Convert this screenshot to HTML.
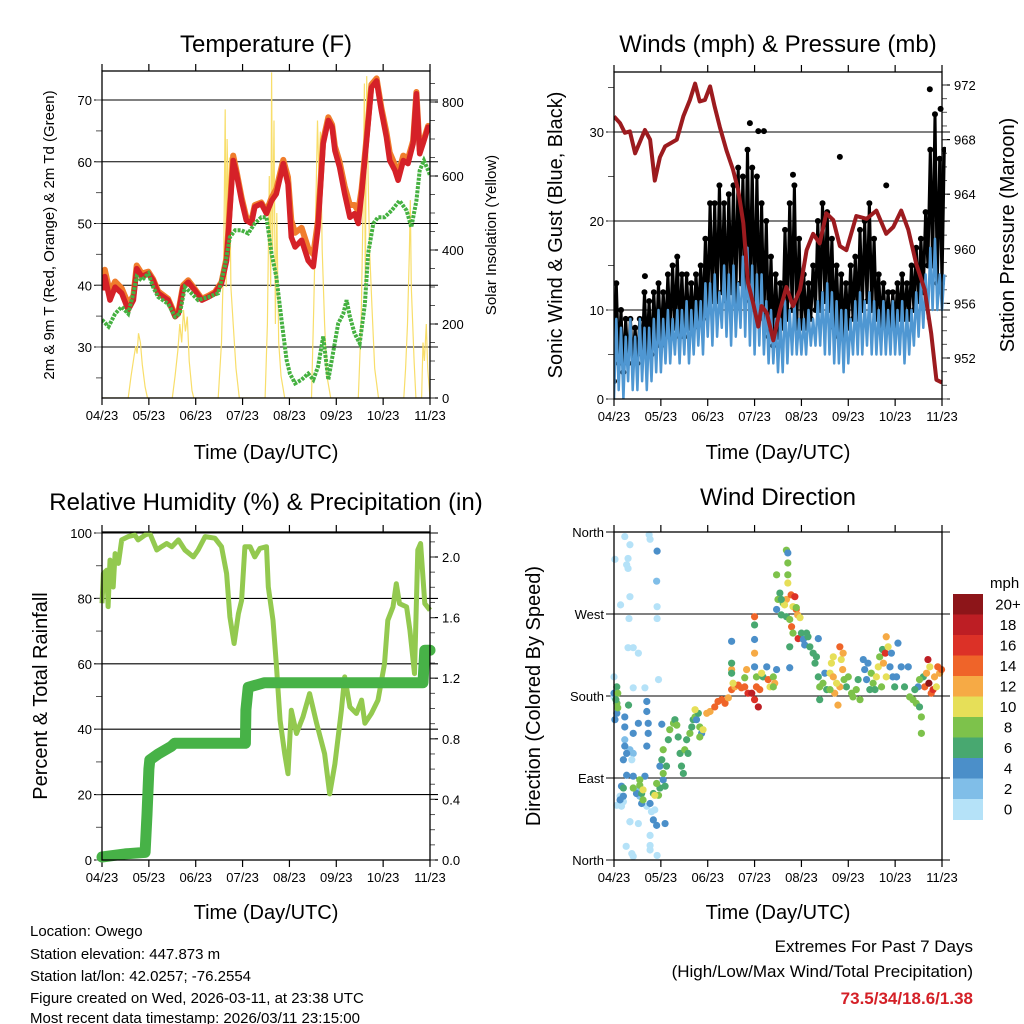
<!DOCTYPE html>
<html><head><meta charset="utf-8">
<style>
html,body{margin:0;padding:0;background:#fff;}
svg{display:block;font-family:"Liberation Sans",Arial,sans-serif;}
</style></head>
<body>
<svg id="chart" width="1024" height="1024" viewBox="0 0 1024 1024" xmlns="http://www.w3.org/2000/svg">
<rect x="0" y="0" width="1024" height="1024" fill="#fff"/>
<text x="266" y="52" font-size="24" text-anchor="middle">Temperature (F)</text>
<text x="778" y="52" font-size="24" text-anchor="middle">Winds (mph) &amp; Pressure (mb)</text>
<text x="266" y="510" font-size="24" text-anchor="middle">Relative Humidity (%) &amp; Precipitation (in)</text>
<text x="778" y="505" font-size="24" text-anchor="middle">Wind Direction</text>
<text x="266" y="459" font-size="20" text-anchor="middle">Time (Day/UTC)</text>
<text x="778" y="459" font-size="20" text-anchor="middle">Time (Day/UTC)</text>
<text x="266" y="919" font-size="20" text-anchor="middle">Time (Day/UTC)</text>
<text x="778" y="919" font-size="20" text-anchor="middle">Time (Day/UTC)</text>
<text transform="translate(54,235) rotate(-90)" font-size="15" text-anchor="middle">2m &amp; 9m T (Red, Orange) &amp; 2m Td (Green)</text>
<text transform="translate(496,235) rotate(-90)" font-size="15" text-anchor="middle">Solar Insolation (Yellow)</text>
<text transform="translate(562,235) rotate(-90)" font-size="20" text-anchor="middle">Sonic Wind &amp; Gust (Blue, Black)</text>
<text transform="translate(1014,235) rotate(-90)" font-size="20" text-anchor="middle">Station Pressure (Maroon)</text>
<text transform="translate(47,696) rotate(-90)" font-size="20" text-anchor="middle">Percent &amp; Total Rainfall</text>
<text transform="translate(540,696) rotate(-90)" font-size="20" text-anchor="middle">Direction (Colored By Speed)</text>
<g font-size="15">
<text x="30" y="936">Location: Owego</text>
<text x="30" y="959">Station elevation: 447.873 m</text>
<text x="30" y="981">Station lat/lon: 42.0257; -76.2554</text>
<text x="30" y="1003">Figure created on Wed, 2026-03-11, at 23:38 UTC</text>
<text x="30" y="1024" dy="-1">Most recent data timestamp: 2026/03/11 23:15:00</text>
</g>
<text x="973" y="952" font-size="17" text-anchor="end">Extremes For Past 7 Days</text>
<text x="973" y="977" font-size="17" text-anchor="end">(High/Low/Max Wind/Total Precipitation)</text>
<text x="973" y="1004" font-size="17" font-weight="bold" fill="#d42027" text-anchor="end">73.5/34/18.6/1.38</text>
<g id="layer"></g>
</svg>
<script>
const xTickLabels = ["04/23","05/23","06/23","07/23","08/23","09/23","10/23","11/23"];

const tempT  = [0,0.06,0.17,0.28,0.42,0.56,0.67,0.74,0.85,0.99,1.09,1.2,1.41,1.56,1.63,1.73,1.84,1.98,2.13,2.27,2.41,2.55,2.66,2.73,2.8,2.87,2.98,3.08,3.19,3.26,3.4,3.51,3.62,3.72,3.87,3.97,4.04,4.12,4.26,4.4,4.51,4.61,4.72,4.83,4.91,4.97,5.07,5.18,5.29,5.39,5.47,5.54,5.64,5.75,5.86,5.96,6.07,6.14,6.25,6.32,6.43,6.53,6.64,6.71,6.78,6.85,6.96,7.0];
const temp2m = [39.2,41.4,37.6,39.7,38.7,36,37.6,42.7,41.4,41.9,40.8,38.7,37.6,34.9,35.4,39.7,40.5,39.2,37.6,38.1,38.7,40.3,44.0,52.1,60.2,58.0,53.7,50.5,50.0,52.7,53.2,51.6,53.7,54.8,59.7,56.4,47.8,46.2,47.3,44.0,43.0,49.4,62.9,66.7,65.6,61.8,59.1,54.8,51.0,51.6,50.0,54.8,62.9,72.0,73.1,68.3,64.0,60.2,58.6,57.0,60.2,59.7,62.9,71.0,61.3,62.9,65.6,65.0];
const temp9m = [40.5,42.5,38.8,40.6,39.5,37,38.3,43.2,41.9,42.2,41.0,39.0,37.8,35.2,35.7,40.0,40.8,39.4,37.8,38.3,38.9,40.5,44.5,53.0,61.0,58.5,54.2,51.0,50.5,53.0,53.4,52.0,54.2,55.6,60.3,57.5,50.5,48.5,49.3,46.0,45.0,50.5,63.5,67.2,66.0,62.5,60.0,56.0,53.0,53.0,52.0,55.6,63.5,72.5,73.5,68.8,64.8,61.5,59.5,58.0,61.0,60.5,63.4,71.3,61.8,63.2,65.8,65.3];
const dewT   = [0,0.14,0.28,0.42,0.56,0.67,0.74,0.85,0.99,1.09,1.2,1.41,1.56,1.66,1.77,1.91,2.05,2.27,2.48,2.62,2.73,2.84,2.98,3.12,3.26,3.4,3.51,3.62,3.72,3.83,3.94,4.01,4.12,4.26,4.4,4.51,4.61,4.72,4.83,4.93,5.04,5.15,5.22,5.29,5.39,5.5,5.61,5.68,5.79,5.89,6.03,6.18,6.35,6.5,6.6,6.71,6.78,6.87,6.96,7.0];
const dewV   = [34.4,33.3,35.4,36.5,35.4,38.7,41.4,40.8,41.9,39.7,38.1,37.0,34.9,35.4,39.7,38.7,37.6,38.1,38.7,43.0,47.8,48.9,48.9,48.4,50.0,51.0,51.0,45.1,41.4,34.4,27.9,25.7,24.1,24.7,25.7,24.7,26.8,31.7,24.7,29.0,33.8,35.4,37.6,34.9,32.2,30.6,37.0,45.1,50.0,51.0,51.0,52.1,53.7,52.1,49.4,53.7,58.6,60.2,58.6,57.8];
const solarT = [0,0.56,0.62,0.68,0.72,0.75,0.78,0.82,0.86,0.92,0.97,1.5,1.56,1.62,1.66,1.7,1.74,1.78,1.82,1.86,1.92,1.96,2.48,2.55,2.6,2.63,2.65,2.67,2.7,2.72,2.75,2.8,2.86,2.93,3.48,3.53,3.57,3.6,3.62,3.64,3.67,3.7,3.73,3.77,3.82,3.9,4.47,4.52,4.56,4.6,4.63,4.66,4.7,4.75,4.8,4.88,5.47,5.53,5.57,5.6,5.62,5.65,5.68,5.71,5.76,5.82,5.9,6.44,6.48,6.52,6.56,6.58,6.6,6.63,6.66,6.7,6.82,6.85,6.88,6.92,6.95,7.0];
const solarV = [0,0,60,110,140,120,175,150,90,30,0,0,60,130,200,150,238,180,220,100,20,0,0,150,400,780,300,700,500,650,300,200,80,0,0,200,600,300,880,400,750,200,500,150,60,0,0,250,500,750,600,720,400,200,60,0,0,200,500,850,300,870,600,400,250,80,0,0,80,200,400,535,300,200,100,0,0,150,100,200,80,0];
const tempTicks = [30,40,50,60,70];
const solarTicks = [0,200,400,600,800];

const windT  = [0,0.1,0.2,0.3,0.4,0.5,0.6,0.7,0.8,0.9,1.0,1.1,1.2,1.3,1.4,1.5,1.6,1.7,1.8,1.9,2.0,2.1,2.2,2.3,2.4,2.5,2.6,2.7,2.8,2.9,3.0,3.1,3.2,3.3,3.4,3.5,3.6,3.7,3.8,3.9,4.0,4.1,4.2,4.3,4.4,4.5,4.6,4.7,4.8,4.9,5.0,5.1,5.2,5.3,5.4,5.5,5.6,5.7,5.8,5.9,6.0,6.1,6.2,6.3,6.4,6.5,6.6,6.7,6.8,6.9,7.0];
const windLo = [0,1,0,2,1,1,2,1,2,3,3,4,4,5,4,5,4,5,6,5,7,6,7,8,7,6,7,8,7,6,5,6,5,4,4,3,3,4,5,5,5,5,6,6,6,5,5,4,4,3,4,5,5,5,6,5,5,5,5,5,5,5,4,5,6,7,8,9,10,10,10];
const windHi = [9,8,7,9,7,9,8,8,9,10,9,10,9,10,10,11,10,11,11,13,13,14,12,15,14,15,13,16,17,15,14,14,11,10,9,9,11,10,11,9,9,10,9,11,12,13,12,11,10,10,9,11,12,11,12,11,10,11,10,11,10,11,10,10,12,13,14,17,18,14,14];
const gustLo = [2,4,3,4,4,4,5,5,5,6,6,7,7,8,7,7,8,8,9,9,10,11,11,12,11,12,11,13,12,11,10,10,9,7,6,7,8,9,10,8,8,8,9,10,10,11,10,8,7,7,8,9,9,10,11,10,9,8,8,8,8,9,9,9,10,11,12,15,15,13,13];
const gustHi = [13,10,9,9,8,9,12,11,12,13,12,14,15,16,14,14,13,14,15,18,22,22,24,22,23,24,26,25,28,26,25,22,20,16,14,13,19,22,24,18,14,13,15,20,22,21,18,15,14,13,15,16,19,20,22,18,14,13,12,12,13,14,13,15,17,18,21,28,32,27,28];
const gustOutT = [2.9,3.08,3.2,6.74,6.97,3.82,4.82,5.81,0.66];
const gustOutV = [31,30.1,30.1,34.8,32.6,25.2,27.2,24,13.8];
const presT = [0,0.13,0.23,0.34,0.45,0.66,0.77,0.87,0.98,1.09,1.34,1.48,1.62,1.73,1.83,1.94,2.05,2.15,2.26,2.4,2.54,2.65,2.76,2.86,2.97,3.08,3.15,3.26,3.4,3.54,3.68,3.82,3.97,4.11,4.25,4.39,4.53,4.68,4.82,4.96,5.17,5.39,5.6,5.81,5.96,6.13,6.28,6.45,6.63,6.77,6.88,7.0];
const presV = [969.7,969.2,968.5,968.6,967.0,968.7,968.0,965.0,966.7,967.5,968.0,969.7,970.9,972.1,970.8,970.9,971.9,970.4,968.9,967.2,965.8,964.3,961.9,957.5,956.0,954.3,955.8,955.3,953.3,955.5,957.2,955.8,957.0,959.9,961.1,960.4,962.6,962.1,960.2,959.9,962.4,962.2,962.8,961.1,961.6,962.8,961.4,958.9,957.0,953.8,950.4,950.2];
const windTicks = [0,10,20,30];
const presTicks = [952,956,960,964,968,972];

const rhT = [0,0.03,0.1,0.13,0.17,0.24,0.28,0.35,0.42,0.56,0.7,0.77,0.92,1.02,1.17,1.27,1.38,1.49,1.63,1.77,1.95,2.05,2.2,2.41,2.55,2.66,2.73,2.82,2.91,2.98,3.05,3.16,3.26,3.37,3.51,3.55,3.65,3.72,3.8,3.9,3.97,4.04,4.15,4.29,4.43,4.58,4.75,4.86,4.97,5.11,5.18,5.29,5.43,5.54,5.61,5.75,5.89,6.03,6.1,6.21,6.28,6.35,6.5,6.57,6.67,6.74,6.8,6.89,7.0];
const rhV = [78.5,87.6,88.6,77.5,91.7,83.5,93.7,90.7,97.9,98.9,99.4,97.9,99.4,99.9,94.8,95.8,96.8,95.8,97.9,94.8,92.7,94.8,98.9,98.4,95.8,87.6,74.3,66.2,75.3,79.4,95.8,95.8,92.7,95.3,95.8,83.5,73.3,60.0,42.7,32.5,26.4,45.8,38.7,43.8,50.9,41.8,32.5,20.2,29.4,45.8,56.0,46.8,44.8,48.9,41.8,44.8,48.9,60.0,73.3,77.4,84.5,78.4,77.4,70.3,57.0,94.8,96.8,78.4,76.4];
const precipT = [0,0.49,0.92,0.96,1.0,1.02,1.2,1.48,1.55,3.06,3.07,3.12,3.47,6.85,6.89,7.0];
const precipV = [0.02,0.04,0.05,0.3,0.6,0.66,0.7,0.75,0.77,0.77,0.99,1.14,1.17,1.17,1.385,1.385];
const rhTicks = [0,20,40,60,80,100];
const precipTicks = [0.0,0.4,0.8,1.2,1.6,2.0];

const dirTicks = [0,90,180,270,360];
const dirTickLabels = ["North","East","South","West","North"];
const speedBins = [0,2,4,6,8,10,12,14,16,18,20];
const speedLabels = ["0","2","4","6","8","10","12","14","16","18","20+"];
const dirT = [0.23,0.34,0.27,0.3,0.3,0.02,0.34,0.14,0.32,0.3,0.41,0.52,0,0.41,0.66,0.95,0.75,0.77,0.92,0.92,0.91,0.92,
0.06,0.16,0.34,0.34,0.52,0.26,0.38,0.41,0.77,0.77,0.77,0.92,0.7,0.8,0.87,0.34,0.41,0.38,0.23,0.48,0.55,0.13,0.2,0,
0,0.06,0.06,0.23,0.23,0.23,0.2,0.27,0.16,0.2,0.41,0.48,0.59,0.7,0.7,0.73,0.73,0.7,0.66,0.77,1.02,0.98,1.05,0.84,1.09,0.91,0.02,0.13,0.27,0.41,0.52,
0.06,0.08,0.06,0.04,0.08,0.31,0.2,0.41,0.55,0.59,0.62,0.84,0.95,0.98,0.91,1.09,1.05,1.12,0.55,0.62,0.87,
1.02,1.05,1.16,1.19,1.27,1.3,1.34,1.37,1.41,1.44,1.48,1.51,1.55,1.62,1.69,1.73,1.76,1.83,1.87,1.9,1.58,1.66,1.8,1.83,1.73,
1.98,2.05,2.15,2.22,2.3,2.37,2.44,2.51,2.58,2.65,2.72,2.79,2.86,2.94,3.0,3.08,3.04,3.11,2.51,2.54,2.83,2.79,2.51,2.51,2.51,3.0,3.0,3.0,3.0,3.0,3.04,3.18,3.26,3.15,3.29,3.33,3.4,3.43,3.47,3.4,
3.68,3.71,3.71,3.71,3.71,3.47,3.54,3.5,3.61,3.68,3.78,3.86,3.82,3.89,3.92,3.97,3.47,3.57,3.68,3.75,3.79,3.82,3.75,3.75,3.89,3.64,3.57,
3.93,4.0,4.04,4.07,4.14,4.18,4.25,4.29,4.36,4.32,4.11,
4.36,4.39,4.39,4.46,4.5,4.54,4.61,4.64,4.68,4.71,4.78,4.82,4.85,4.88,4.91,4.96,5.0,4.82,4.89,4.68,4.61,4.75,
5.07,5.17,5.25,5.32,5.35,5.39,5.46,5.42,5.49,5.53,5.6,5.64,5.67,5.73,5.75,5.79,5.81,5.85,5.89,5.92,5.99,6.03,6.06,6.13,6.2,6.28,5.57,5.71,5.95,5.81,5.21,5.1,
6.31,6.38,6.45,6.52,6.56,6.56,6.6,6.63,6.67,6.7,6.72,6.74,6.77,6.81,6.84,6.91,6.95,6.99,6.49,6.42,6.88,6.52];
const dirV = [355,346,324,320,331,330,289,280,265,233,233,227,201,189,189,198,357,352,278,265,306,339,
60,59,42,42,40,15,7,4,27,16,11,5,59,53,55,121,117,110,132,77,70,70,64,179,
183,172,161,157,146,125,110,93,81,70,92,73,62,174,163,150,139,125,92,62,149,103,88,44,40,38,154,66,117,139,150,
190,183,172,176,167,170,79,79,82,73,66,73,71,79,84,81,95,103,88,77,71,
110,121,132,143,150,154,148,135,117,103,95,121,132,139,154,157,154,146,139,143,117,146,161,135,165,
161,163,168,174,176,172,178,187,190,192,189,190,183,183,176,168,190,187,209,194,209,200,216,240,205,267,258,242,227,212,201,201,212,205,198,190,201,194,209,190,
340,337,326,313,304,313,293,286,282,286,291,289,278,275,269,266,275,269,267,264,256,249,234,211,277,280,286,
243,249,242,236,245,234,227,216,243,223,249,
201,190,176,194,205,187,205,216,201,183,170,234,220,209,198,190,201,190,227,223,187,194,
183,187,176,220,209,198,187,216,205,194,201,212,223,231,216,227,245,234,212,227,190,201,238,212,190,212,187,190,201,201,198,179,
179,176,172,168,157,139,201,190,205,220,194,212,183,187,201,212,205,209,190,187,190,198];
const dirS = [1,1,1,1,1,1,1,1,1,1,1,1,1,1,1,1,1,1,1,1,3,5,
1,1,1,1,1,1,1,1,1,1,1,1,1,1,1,3,3,1,3,3,3,1,1,1,
5,5,5,5,5,5,5,5,5,5,5,5,5,5,5,5,5,5,5,5,5,5,5,5,5,5,5,5,5,5,5,
7,9,9,7,9,7,7,9,9,7,9,7,9,7,9,7,9,7,9,11,11,
7,9,7,9,9,7,9,7,7,7,7,9,7,9,7,9,5,9,5,11,7,7,7,9,11,
13,13,15,15,15,15,13,15,13,15,15,15,17,19,17,19,15,15,13,11,13,9,7,5,7,15,7,5,13,5,9,7,5,11,15,11,9,13,5,9,
9,5,9,9,11,9,7,9,9,13,15,17,11,15,13,11,5,7,7,9,15,9,7,5,9,11,7,
17,7,5,5,7,7,7,7,5,7,7,
7,9,7,9,5,7,11,11,13,13,13,15,11,13,9,7,9,13,13,11,9,11,
9,9,9,5,5,5,7,5,9,9,11,11,9,7,13,17,13,11,5,5,7,5,5,5,7,5,7,9,5,11,7,9,
9,9,9,7,9,9,7,15,13,19,21,11,15,17,13,15,13,15,5,7,11,9];
const speedColors = ["#b5e2f8","#80bee8","#4b8fc9","#48a870","#7dc24b","#e6df58","#f6aa45","#ef6429","#dc3127","#bd1e24","#8d1519"];

const NS = "http://www.w3.org/2000/svg";
const layer = document.getElementById("layer");
function mk(tag, attrs, parent) {
  const e = document.createElementNS(NS, tag);
  for (const k in attrs) e.setAttribute(k, attrs[k]);
  (parent || layer).appendChild(e);
  return e;
}
function lin(d0, d1, r0, r1) { return v => r0 + (v - d0) * (r1 - r0) / (d1 - d0); }

function timeAxis(p, prefix) {
  const xs = lin(0, 7, p.x0, p.x1);
  xTickLabels.forEach((lab, i) => {
    const x = xs(i);
    const tb = mk("line", {x1:x, x2:x, y1:p.y1, y2:p.y1+7, stroke:"#000", "stroke-width":1.2});
    
    
    const tt = mk("line", {x1:x, x2:x, y1:p.y0-7, y2:p.y0, stroke:"#000", "stroke-width":1.2});
    
    
    const t = mk("text", {x:x, y:p.y1+22, "font-size":13, "text-anchor":"middle"});
    t.textContent = lab;
    
    
  });
  return xs;
}
function frame(p, prefix) {
  const r = mk("rect", {x:p.x0, y:p.y0, width:p.x1-p.x0, height:p.y1-p.y0, fill:"none", stroke:"#000", "stroke-width":1.3});
  
  
}
function leftAxis(p, ys, ticks, labels, minorStep, lo, hi, prefix, grid) {
  ticks.forEach((v, i) => {
    const y = ys(v);
    if (grid) {
      const g = mk("line", {x1:p.x0-8, x2:p.x1+8, y1:y, y2:y, stroke:"#000", "stroke-width":1.1});
      
      
    }
    const t = mk("text", {x:p.x0-10, y:y+5, "font-size":13, "text-anchor":"end"});
    t.textContent = labels ? labels[i] : v;
    
    
  });
  if (minorStep) {
    for (let v = lo; v <= hi + 1e-9; v += minorStep) {
      const y = ys(v);
      if (y < p.y0 - 0.5 || y > p.y1 + 0.5) continue;
      const m = mk("line", {x1:p.x0-6, x2:p.x0, y1:y, y2:y, stroke:"#555", "stroke-width":1});
      
      
    }
  }
}
function rightAxis(p, ys, ticks, fmt, minorStep, lo, hi, prefix) {
  ticks.forEach(v => {
    const y = ys(v);
    const tk = mk("line", {x1:p.x1, x2:p.x1+8, y1:y, y2:y, stroke:"#000", "stroke-width":1.2});
    
    
    const t = mk("text", {x:p.x1+12, y:y+5, "font-size":13});
    t.textContent = fmt(v);
    
    
  });
  for (let v = lo; v <= hi + 1e-9; v += minorStep) {
    const y = ys(v);
    if (y < p.y0 - 0.5 || y > p.y1 + 0.5) continue;
    const m = mk("line", {x1:p.x1, x2:p.x1+5, y1:y, y2:y, stroke:"#555", "stroke-width":1});
    
    
  }
}
function pathFrom(ts, vs, xs, ys) {
  return ts.map((t, i) => (i ? "L" : "M") + xs(t).toFixed(1) + "," + ys(vs[i]).toFixed(1)).join("");
}

(function(){
  const p = {x0:102, x1:430, y0:71, y1:398};
  const xs = timeAxis(p, "temperature");
  const yT = lin(30, 70, 347, 100);
  const yS = lin(0, 800, 398, 102);
  leftAxis(p, yT, tempTicks, null, 5, 25, 75, "temperature", true);
  rightAxis(p, yS, solarTicks, v => v, 50, 0, 850, "solar");
  const cp = mk("clipPath", {id:"clip1"});
  mk("rect", {x:p.x0, y:p.y0, width:p.x1-p.x0, height:p.y1-p.y0}, cp);
  const g = mk("g", {"clip-path":"url(#clip1)"});
  
  
  const s = mk("path", {d:pathFrom(solarT, solarV, xs, yS), fill:"none", stroke:"#f8de6a", "stroke-width":1.2}, g);
  
  
  const o = mk("path", {d:pathFrom(tempT, temp9m, xs, yT), fill:"none", stroke:"#f07d2c", "stroke-width":6, "stroke-linejoin":"round"}, g);
  
  
  const r = mk("path", {d:pathFrom(tempT, temp2m, xs, yT), fill:"none", stroke:"#d52128", "stroke-width":5.5, "stroke-linejoin":"round"}, g);
  
  
  const d = mk("path", {d:pathFrom(dewT, dewV, xs, yT), fill:"none", stroke:"#45b141", "stroke-width":4, "stroke-dasharray":"3 1.2"}, g);
  
  
  frame(p, "temperature");
})();

(function(){
  const p = {x0:614, x1:942, y0:72, y1:399};
  const xs = timeAxis(p, "winds");
  const yW = lin(0, 30, 399, 132);
  const yP = lin(952, 972, 358, 85);
  leftAxis(p, yW, windTicks, null, 5, 0, 35, "winds", true);
  rightAxis(p, yP, presTicks, v => v, 1, 949, 973, "pressure");
  const cp = mk("clipPath", {id:"clip2"});
  mk("rect", {x:p.x0, y:p.y0-6, width:p.x1-p.x0+4, height:p.y1-p.y0+6}, cp);
  const g = mk("g", {"clip-path":"url(#clip2)"});
  
  
  let dg = "", db = "";
  windT.forEach((t, i) => {
    const half = 0.05;
    dg += (i ? "L" : "M") + xs(t).toFixed(1) + "," + yW(gustLo[i]).toFixed(1) + "L" + xs(t + half).toFixed(1) + "," + yW(gustHi[i]).toFixed(1);
    db += (i ? "L" : "M") + xs(t).toFixed(1) + "," + yW(windLo[i]).toFixed(1) + "L" + xs(t + half).toFixed(1) + "," + yW(windHi[i]).toFixed(1);
  });
  const gl = mk("path", {d:dg, fill:"none", stroke:"#000", "stroke-width":3, "stroke-linejoin":"round", "stroke-linecap":"round"}, g);
  
  
  windT.forEach((t, i) => {
    const c1 = mk("circle", {cx:xs(t + 0.05), cy:yW(gustHi[i]), r:3, fill:"#000"}, g);
    
    
    const c2 = mk("circle", {cx:xs(t), cy:yW(gustLo[i]), r:3, fill:"#000"}, g);
    
    
  });
  gustOutT.forEach((t, i) => {
    const c = mk("circle", {cx:xs(t), cy:yW(gustOutV[i]), r:3, fill:"#000"}, g);
    
    
  });
  const bl = mk("path", {d:db, fill:"none", stroke:"#4f97d2", "stroke-width":2.5, "stroke-linejoin":"round"}, g);
  
  
  const pl = mk("path", {d:pathFrom(presT, presV, xs, yP), fill:"none", stroke:"#9c1b1f", "stroke-width":4, "stroke-linejoin":"round"}, g);
  
  
  frame(p, "winds");
})();

(function(){
  const p = {x0:102, x1:430, y0:532, y1:860};
  const xs = timeAxis(p, "humidity");
  const yR = lin(0, 100, 860, 533);
  const yPr = lin(0, 2.0, 860, 557);
  leftAxis(p, yR, rhTicks, null, 10, 0, 100, "humidity", true);
  rightAxis(p, yPr, precipTicks, v => v.toFixed(1), 0.1, 0, 2.1, "precip");
  const g = mk("g", {});
  
  
  const rh = mk("path", {d:pathFrom(rhT, rhV, xs, yR), fill:"none", stroke:"#93c94f", "stroke-width":5, "stroke-linejoin":"round"}, g);
  
  
  const pr = mk("path", {d:pathFrom(precipT, precipV, xs, yPr), fill:"none", stroke:"#47b247", "stroke-width":11, "stroke-linejoin":"round", "stroke-linecap":"round"}, g);
  
  
  frame(p, "humidity");
})();

(function(){
  const p = {x0:614, x1:942, y0:532, y1:860};
  const xs = timeAxis(p, "direction");
  const yD = lin(0, 360, 860, 532);
  leftAxis(p, yD, dirTicks, dirTickLabels, 0, 0, 0, "direction", true);
  const g = mk("g", {});
  
  
  function colorFor(s) {
    let idx = 0;
    for (let k = 0; k < speedBins.length; k++) if (s >= speedBins[k]) idx = k;
    return speedColors[idx];
  }
  dirT.forEach((t, i) => {
    const c = mk("circle", {cx:xs(t), cy:yD(dirV[i]), r:3.6, fill:colorFor(dirS[i])}, g);
    
    
  });
  frame(p, "direction");
  const lg = mk("g", {});
  
  
  const mph = mk("text", {x:990, y:588, "font-size":15}, lg);
  mph.textContent = "mph";
  
  
  const n = speedColors.length, top = 594, h = 20.5;
  for (let k = 0; k < n; k++) {
    const ci = n - 1 - k;
    const b = mk("rect", {x:953, y:top + k*h, width:30, height:h + 0.5, fill:speedColors[ci]}, lg);
    
    
    const t = mk("text", {x:1008, y:top + k*h + h/2 + 5, "font-size":15, "text-anchor":"middle"}, lg);
    t.textContent = speedLabels[ci];
    
    
  }
})();
</script>
</body></html>
